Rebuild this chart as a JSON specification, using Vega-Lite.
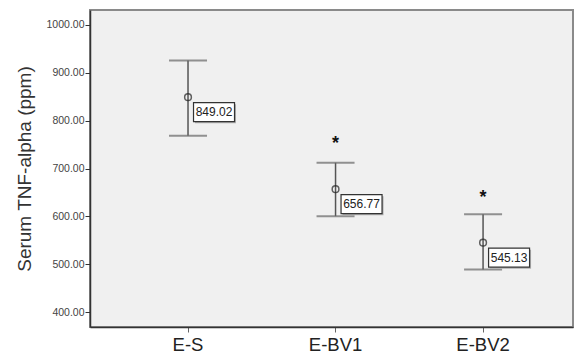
{
  "$schema": "https://vega.github.io/schema/vega-lite/v6.json",
  "width": 483,
  "height": 317,
  "autosize": {"type": "none"},
  "padding": {"left": 90, "top": 10, "right": 3, "bottom": 35},
  "background": "white",
  "config": {
    "font": "Liberation Sans",
    "view": {"fill": "#F0F0F0", "stroke": "#8a8a8a", "strokeWidth": 2}
  },
  "data": {
    "values": [
      {"group": "E-S", "mean": 849.02, "lo": 768.5, "hi": 925.5, "star": null, "label": "849.02"},
      {"group": "E-BV1", "mean": 656.77, "lo": 600.5, "hi": 712, "star": 761, "label": "656.77"},
      {"group": "E-BV2", "mean": 545.13, "lo": 489, "hi": 604.5, "star": 648.5, "label": "545.13"}
    ]
  },
  "encoding": {
    "x": {
      "field": "group", "type": "nominal", "sort": null,
      "scale": {"type": "band", "paddingInner": 0, "paddingOuter": 0.137, "align": 0.6},
      "axis": {
        "title": null, "labelAngle": 0, "labelFontSize": 18.5, "labelColor": "#222",
        "tickSize": 5, "tickColor": "#666", "domainColor": "#333", "domainWidth": 1.5, "labelPadding": 3
      }
    }
  },
  "layer": [
    {
      "mark": {"type": "rule", "color": "#555", "strokeWidth": 1.5},
      "encoding": {
        "y": {
          "field": "lo", "type": "quantitative",
          "scale": {"domain": [369, 1031], "nice": false, "zero": false},
          "axis": {
            "title": "Serum TNF-alpha (ppm)", "titleFontSize": 19, "titleFontWeight": "normal",
            "titleColor": "#333", "titlePadding": 12,
            "values": [400, 500, 600, 700, 800, 900, 1000], "format": ".2f",
            "labelFontSize": 10.5, "labelColor": "#444", "tickSize": 5, "tickColor": "#333",
            "domainColor": "#333", "domainWidth": 1.5, "grid": false, "labelPadding": 1
          }
        },
        "y2": {"field": "hi"}
      }
    },
    {
      "mark": {"type": "tick", "color": "#666", "thickness": 2, "size": 38, "orient": "horizontal"},
      "encoding": {"y": {"field": "lo", "type": "quantitative"}}
    },
    {
      "mark": {"type": "tick", "color": "#666", "thickness": 2, "size": 38, "orient": "horizontal"},
      "encoding": {"y": {"field": "hi", "type": "quantitative"}}
    },
    {
      "mark": {"type": "point", "shape": "circle", "filled": false, "stroke": "#222", "strokeWidth": 1.5, "size": 45},
      "encoding": {"y": {"field": "mean", "type": "quantitative"}}
    },
    {
      "mark": {"type": "point", "shape": "M-1.025,-0.475H1.025V0.475H-1.025Z", "size": 1600, "filled": true, "fill": "#b0b0b0", "strokeWidth": 0, "opacity": 1, "xOffset": 27.5, "yOffset": 16.5},
      "encoding": {"y": {"field": "mean", "type": "quantitative"}}
    },
    {
      "mark": {"type": "point", "shape": "M-1.025,-0.475H1.025V0.475H-1.025Z", "size": 1600, "filled": true, "fill": "white", "stroke": "#333", "strokeWidth": 1.2, "opacity": 1, "xOffset": 26, "yOffset": 15},
      "encoding": {"y": {"field": "mean", "type": "quantitative"}}
    },
    {
      "mark": {"type": "text", "fontSize": 12, "color": "#222", "dx": 26, "dy": 15, "baseline": "middle", "align": "center"},
      "encoding": {"y": {"field": "mean", "type": "quantitative"}, "text": {"field": "label"}}
    },
    {
      "transform": [{"filter": "datum.star != null"}],
      "mark": {"type": "text", "fontSize": 18, "fontWeight": "bold", "color": "#111", "baseline": "middle", "align": "center", "dy": 5, "text": "*"},
      "encoding": {"y": {"field": "star", "type": "quantitative"}}
    }
  ]
}
